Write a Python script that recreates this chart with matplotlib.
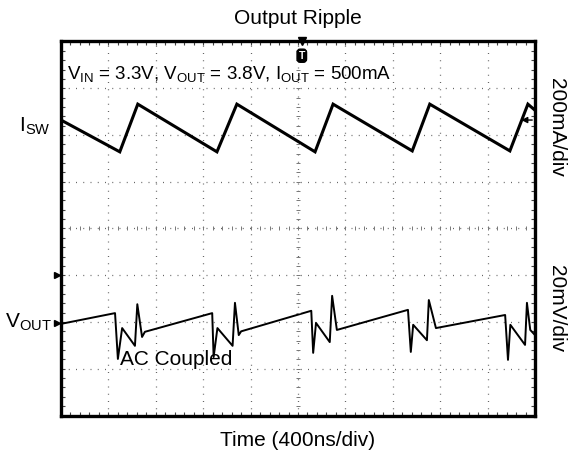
import numpy as np
import matplotlib.pyplot as plt
import matplotlib.transforms as mtransforms

plt.rcParams['font.family'] = ['Liberation Sans', 'DejaVu Sans']
plt.rcParams['mathtext.fontset'] = 'custom'
plt.rcParams['mathtext.rm'] = 'Liberation Sans'

# Trazas (x en div de tiempo, y en div verticales, 0..8)
isw_x = [0.0, 1.24, 1.62, 3.29, 3.71, 5.36, 5.74, 7.41, 7.78, 9.47, 9.85, 10.0]
isw_y = [6.32, 5.64, 6.66, 5.64, 6.66, 5.64, 6.66, 5.66, 6.66, 5.66, 6.66, 6.53]

vout_x = [0.0, 1.14, 1.20, 1.29, 1.56, 1.61, 1.71, 1.77, 3.19, 3.22, 3.30, 3.62,
          3.67, 3.75, 3.80, 5.28, 5.32, 5.38, 5.67, 5.72, 5.82, 7.32, 7.38, 7.43,
          7.72, 7.76, 7.91, 9.37, 9.43, 9.48, 9.79, 9.83, 9.90, 10.0]
vout_y = [1.96, 2.19, 1.21, 1.87, 1.49, 2.38, 1.68, 1.79, 2.19, 1.25, 1.87, 1.49,
          2.41, 1.72, 1.80, 2.24, 1.34, 1.98, 1.57, 2.56, 1.83, 2.26, 1.36, 1.94,
          1.61, 2.47, 1.87, 2.15, 1.19, 1.94, 1.51, 2.41, 1.83, 1.72]

# Marcadores del osciloscopio
ref_niveles = [1.98, 3.0]   # flechas a la izquierda (V_OUT y otra)
trigger_x = 5.08
cursor_der = (9.9, 6.32)

fig = plt.figure(figsize=(5.72, 4.61), dpi=100)
ax = fig.add_axes([61 / 572, 1 - 415.5 / 461, 474 / 572, 374 / 461])

ax.plot(isw_x, isw_y, color='black', lw=2.2, solid_joinstyle='miter')
ax.plot(vout_x, vout_y, color='black', lw=1.4)

ax.set_xlim(0, 10)
ax.set_ylim(0, 8)
ax.set_xticks(np.arange(0, 11, 1))
ax.set_yticks(np.arange(0, 9, 1))
ax.set_xticks(np.arange(0, 10.01, 0.2), minor=True)
ax.set_yticks(np.arange(0, 8.01, 0.2), minor=True)
ax.tick_params(which='both', direction='in', top=True, right=True,
               labelbottom=False, labelleft=False, length=3, width=0.8, color='#444444')
ax.grid(True, which='major', color='#666666', lw=0.9, linestyle=(0, (0.8, 5)))
for s in ax.spines.values():
    s.set_linewidth(2.4)

# marcas en la cruz central
cx = np.arange(0, 10.01, 0.2)
cy = np.arange(0, 8.01, 0.2)
ax.plot(cx, np.full_like(cx, 4.0), ls='none', marker='|', ms=2.5, color='#777777', mew=0.7)
ax.plot(np.full_like(cy, 5.0), cy, ls='none', marker='_', ms=2.5, color='#777777', mew=0.7)

# flechas de referencia a la izquierda
trans_l = mtransforms.blended_transform_factory(ax.transAxes, ax.transData)
for nivel in ref_niveles:
    ax.plot([-0.008], [nivel], marker='>', ms=5, color='black', transform=trans_l, clip_on=False)

# marcador de disparo
trans_t = mtransforms.blended_transform_factory(ax.transData, ax.transAxes)
ax.plot([trigger_x], [1.0], marker='v', ms=6, color='black', transform=trans_t, clip_on=False)
ax.text(trigger_x, 0.962, 'T', transform=trans_t, ha='center', va='center', color='white',
        fontsize=7.5, fontweight='bold',
        bbox=dict(boxstyle='round,pad=0.15,rounding_size=0.3', fc='black', ec='black'))

# cursor a la derecha
ax.annotate('', xy=(cursor_der[0] - 0.25, cursor_der[1]), xytext=(cursor_der[0] + 0.1, cursor_der[1]),
            arrowprops=dict(arrowstyle='-|>', color='black', lw=1.0, mutation_scale=9))

ax.text(0.12, 7.28, r'V$_\mathregular{IN}$ = 3.3V, V$_\mathregular{OUT}$ = 3.8V, '
        r'I$_\mathregular{OUT}$ = 500mA', fontsize=13.5, va='center', ha='left')
ax.text(1.25, 1.19, 'AC Coupled', fontsize=15, va='center', ha='left')

fig.text(298 / 572, 1 - 18 / 461, 'Output Ripple', fontsize=15, ha='center', va='center')
fig.text(298 / 572, 1 - 440 / 461, 'Time (400ns/div)', fontsize=15, ha='center', va='center')
fig.text(35 / 572, 1 - 126 / 461, r'I$_\mathregular{SW}$', fontsize=15, ha='center', va='center')
fig.text(28 / 572, 1 - 322 / 461, r'V$_\mathregular{OUT}$', fontsize=15, ha='center', va='center')
fig.text(556 / 572, 1 - 127 / 461, '200mA/div', fontsize=15, ha='center', va='center', rotation=-90)
fig.text(556 / 572, 1 - 309 / 461, '20mV/div', fontsize=15, ha='center', va='center', rotation=-90)

fig.savefig('out.png', dpi=100)
